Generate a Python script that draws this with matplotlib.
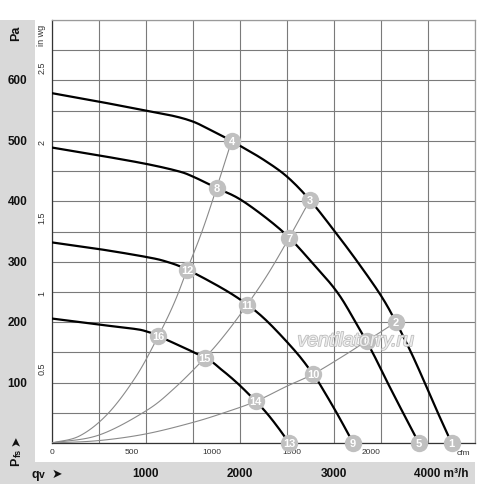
import matplotlib
matplotlib.use("Agg")
import numpy as np
import matplotlib.pyplot as plt
import matplotlib.transforms as mtransforms
import matplotlib.patheffects as pe
from matplotlib.patches import Rectangle

plt.rcParams['font.family'] = ['Liberation Sans', 'DejaVu Sans']

# ---- data ----
# fan curves: flow qv [m3/h], static pressure Pfs [Pa]
curveA_q = [0, 500, 1000, 1300, 1500, 1650, 1800, 1913, 2000, 2250, 2500, 2745, 3000, 3250, 3500, 3660, 3820, 3965, 4105, 4251]
curveA_p = [579, 565, 550, 541, 532, 521, 509, 500, 492, 469, 441, 402, 352, 300, 244, 200, 150, 100, 50, 0]
curveB_q = [0, 500, 1000, 1340, 1500, 1753, 2036, 2455, 2760, 3033, 3230, 3410, 3570, 3735, 3903]
curveB_p = [489, 476, 462, 450, 441, 422, 400, 350, 300, 250, 200, 150, 100, 50, 0]
curveC_q = [0, 500, 1000, 1222, 1440, 1824, 2079, 2300, 2600, 2778, 2840, 3029, 3205]
curveC_p = [332, 321, 308, 300, 287, 255, 229, 200, 150, 114, 100, 50, 0]
curveD_q = [0, 500, 873, 1000, 1133, 1629, 1800, 1981, 2170, 2283, 2400, 2525]
curveD_p = [206, 196, 189, 185, 177, 141, 122, 98, 69, 50, 27, 0]

# system curves (thin grey)
sys1_q = [0, 300, 600, 900, 1133, 1300, 1440, 1600, 1753, 1913]
sys1_p = [0, 12, 49, 111, 177, 231, 287, 351, 422, 500]
sys2_q = [0, 500, 1000, 1300, 1629, 1850, 2079, 2300, 2525, 2745]
sys2_p = [0, 13, 53, 90, 141, 181, 229, 280, 340, 402]
sys3_q = [0, 500, 1000, 1500, 1850, 2170, 2500, 2778, 3100, 3350, 3660]
sys3_p = [0, 4, 15, 34, 51, 69, 94, 114, 144, 169, 200]

# numbered operating points
pt_labels = ['1', '2', '3', '4', '5', '6', '7', '8', '9', '10', '11', '12', '13', '14', '15', '16']
pt_q = [4251, 3660, 2745, 1913, 3903, 3350, 2525, 1753, 3205, 2778, 2079, 1440, 2525, 2170, 1629, 1133]
pt_p = [0, 200, 402, 500, 0, 169, 340, 422, 0, 114, 229, 287, 0, 69, 141, 177]

pa_ticks = [100, 200, 300, 400, 500, 600]
inwg_ticks = [0.5, 1, 1.5, 2, 2.5]
inwg_labels = ['0.5', '1', '1.5', '2', '2.5']
cfm_ticks = [0, 500, 1000, 1500, 2000]
m3h_ticks = [1000, 2000, 3000]

PA_PER_INWG = 249.09
M3H_PER_CFM = 1.699


def smooth_path(ax, xs, ys, n=12):
    """Render a smooth Catmull-Rom path through the given points (display space)."""
    pts = ax.transData.transform(np.column_stack([xs, ys]))
    P = np.vstack([2 * pts[0] - pts[1], pts, 2 * pts[-1] - pts[-2]])
    out = []
    t = np.linspace(0, 1, n, endpoint=False)[:, None]
    for i in range(1, len(P) - 2):
        p0, p1, p2, p3 = P[i - 1], P[i], P[i + 1], P[i + 2]
        seg = 0.5 * ((2 * p1) + (-p0 + p2) * t + (2 * p0 - 5 * p1 + 4 * p2 - p3) * t ** 2
                     + (-p0 + 3 * p1 - 3 * p2 + p3) * t ** 3)
        out.append(seg)
    out.append(pts[-1][None, :])
    out = np.vstack(out)
    d = ax.transData.inverted().transform(out)
    return d[:, 0], d[:, 1]


# ---- figure ----
W, H = 500, 485
fig = plt.figure(figsize=(W / 100, H / 100), dpi=100)
fig.patch.set_facecolor('white')

band = '#d9d9d9'
fig.patches.append(Rectangle((0, 0), 35 / W, (H - 21) / H, transform=fig.transFigure,
                             facecolor=band, edgecolor='none', zorder=-1))
fig.patches.append(Rectangle((0, 0), 475 / W, 22 / H, transform=fig.transFigure,
                             facecolor=band, edgecolor='none', zorder=-1))

ax = fig.add_axes([51.7 / W, (H - 444) / H, (475 - 51.7) / W, (444 - 21) / H])
ax.set_xlim(0, 4500)
ax.set_ylim(0, 700)
ax.set_xticks(range(0, 4501, 500))
ax.set_yticks(range(0, 701, 50))
ax.tick_params(length=0, labelbottom=False, labelleft=False)
ax.grid(True, color='#7a7a7a', linewidth=0.8)
ax.set_axisbelow(True)
for s in ['top', 'right']:
    ax.spines[s].set_color('#9a9a9a')
    ax.spines[s].set_linewidth(0.9)
for s in ['left', 'bottom']:
    ax.spines[s].set_color('#333333')
    ax.spines[s].set_linewidth(0.9)

# system curves
for q, p in [(sys1_q, sys1_p), (sys2_q, sys2_p), (sys3_q, sys3_p)]:
    sx, sy = smooth_path(ax, q, p)
    ax.plot(sx, sy, color='#8a8a8a', linewidth=0.8, zorder=3, solid_capstyle='round')

# fan curves
for q, p in [(curveA_q, curveA_p), (curveB_q, curveB_p), (curveC_q, curveC_p), (curveD_q, curveD_p)]:
    sx, sy = smooth_path(ax, q, p)
    ax.plot(sx, sy, color='black', linewidth=1.6, zorder=4, solid_joinstyle='round')

# markers
ax.plot(pt_q, pt_p, linestyle='none', marker='o', markersize=12.5, markerfacecolor='#c0c0c0',
        markeredgecolor='none', zorder=6, clip_on=False)
for lab, q, p in zip(pt_labels, pt_q, pt_p):
    ax.text(q, p, lab, color='white', fontsize=8, fontweight='bold', ha='center', va='center',
            zorder=7, clip_on=False)

# watermark
ax.text(3234, 168, 'ventilatorry.ru', fontsize=14, style='italic', color='#f2f2f2', alpha=0.9,
        ha='center', va='center', zorder=8,
        path_effects=[pe.withStroke(linewidth=1.2, foreground='#b8b8b8')])

# left labels
tr_fy = mtransforms.blended_transform_factory(fig.transFigure, ax.transData)
for v in pa_ticks:
    ax.text(17.5 / W, v, str(v), transform=tr_fy, fontsize=8.5, fontweight='bold',
            ha='center', va='center', color='#111111')
for v, lab in zip(inwg_ticks, inwg_labels):
    ax.text(42 / W, v * PA_PER_INWG, lab, transform=tr_fy, fontsize=6.5, rotation=90,
            ha='center', va='center', color='#333333')
ax.text(42 / W, 677, 'in wg', transform=tr_fy, fontsize=6.5, rotation=90,
        ha='center', va='center', color='#333333')
fig.text(16 / W, (H - 33) / H, 'Pa', fontsize=9, fontweight='bold', rotation=90,
         ha='center', va='center', color='#111111')
fig.text(16 / W, (H - 441) / H, '\u27a4', fontsize=9, rotation=90, ha='center', va='center',
         color='#111111', family='DejaVu Sans')
fig.text(16 / W, (H - 462) / H, 'P', fontsize=9, fontweight='bold', rotation=90,
         ha='center', va='center', color='#111111')
fig.text(18.5 / W, (H - 453) / H, 'fs', fontsize=6.5, fontweight='bold', rotation=90,
         ha='center', va='center', color='#111111')

# bottom labels
tr_xf = mtransforms.blended_transform_factory(ax.transData, fig.transFigure)
for v in cfm_ticks:
    ax.text(v * M3H_PER_CFM, (H - 453) / H, str(v), transform=tr_xf, fontsize=6,
            ha='center', va='center', color='#333333', zorder=2)
fig.text(463 / W, (H - 454) / H, 'cfm', fontsize=6, ha='center', va='center', color='#333333')
for v in m3h_ticks:
    ax.text(v, (H - 474) / H, str(v), transform=tr_xf, fontsize=8.5, fontweight='bold',
            ha='center', va='center', color='#111111')
fig.text(468 / W, (H - 474) / H, '4000 m\u00b3/h', fontsize=8.5, fontweight='bold',
         ha='right', va='center', color='#111111')
fig.text(35 / W, (H - 475) / H, 'q', fontsize=9, fontweight='bold', ha='center', va='center',
         color='#111111')
fig.text(41.5 / W, (H - 475) / H, 'v', fontsize=7.5, fontweight='bold', ha='center', va='center',
         color='#111111')
fig.text(57 / W, (H - 474) / H, '\u27a4', fontsize=9, ha='center', va='center',
         color='#111111', family='DejaVu Sans')

fig.savefig('out.png', dpi=100)
